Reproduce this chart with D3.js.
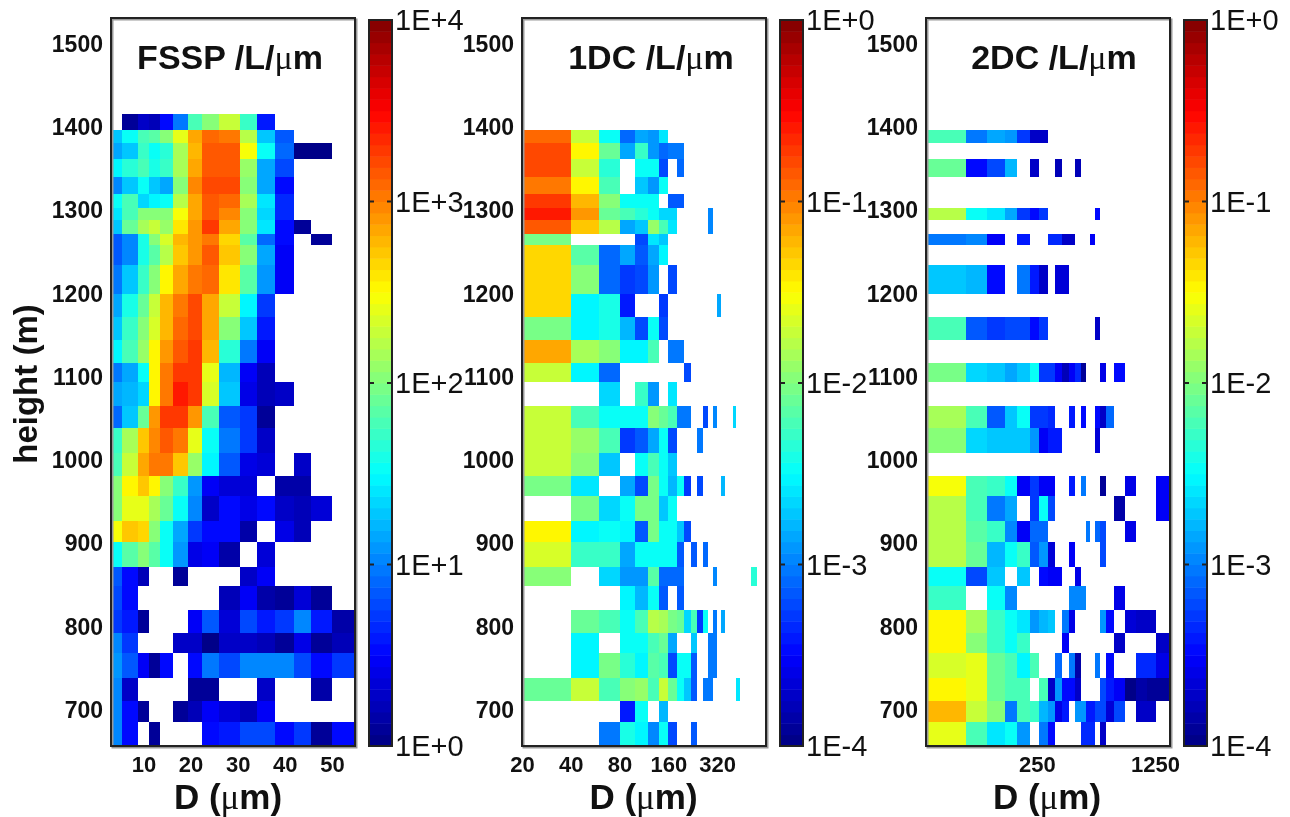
<!DOCTYPE html>
<html>
<head>
<meta charset="utf-8">
<script src="https://cdn.jsdelivr.net/npm/d3@7"></script>
<style>
  html, body { margin: 0; background: #fff; }
  svg { display: block; filter: blur(0.6px); }
  text { font-family: "Liberation Sans", Arial, sans-serif; fill: #111; }
</style>
</head>
<body>
<div id="chart"></div>
<script>
const _ = null;

// height bin edges (m), top to bottom, shared by the three panels
const heightEdges = [1416, 1397, 1381, 1361.5, 1340.6, 1320, 1302.6, 1288.6, 1271.8, 1258.6, 1234, 1199.7,
  1172, 1144.4, 1116.8, 1093.6, 1065.5, 1038.7, 1009, 981, 957, 927.4, 902, 872, 849, 820, 793, 769, 739, 711, 686, 657];
const heightTicks = [700, 800, 900, 1000, 1100, 1200, 1300, 1400, 1500];

// diameter bin edges (um)
const fsspEdges = [3.25, 5.44, 8.77, 11.23, 13.5, 16.33, 19.38, 22.42, 26.03, 30.42, 34.1, 37.92, 41.89, 45.5, 50.08, 54.69];
const oneDcEdges = [20, 40, 60, 80, 100, 120, 140, 160, 180, 200, 220, 240, 260, 280, 300, 320, 340, 360, 380,
  400, 420, 440, 460, 480, 500, 520, 540, 560];
const twoDcEdges = [55, 95, 126.5, 161.6, 191, 226, 257, 292, 318, 353, 387, 420, 456, 487, 517, 554, 593, 644,
  715, 831, 966, 1126, 1269, 1535];

const fsspTicks = [10, 20, 30, 40, 50];
const oneDcTicks = [20, 40, 80, 160, 320];
const twoDcTicks = [250, 1250];

const fsspLegend = ['1E+0', '1E+1', '1E+2', '1E+3', '1E+4'];
const dcLegend = ['1E-4', '1E-3', '1E-2', '1E-1', '1E+0'];

// log10 concentration, one row per height bin, one column per diameter bin
const fsspValues = [
  [_, .1, .3, .2, .55, .95, 1.8, 2.05, 2.3, 1.7, .6],
  [1.3, 1.55, 1.8, 1.85, 2, 2.4, 2.85, 3.1, 3.05, 2.2, 1.25, .85],
  [1.15, 1.3, 1.7, 1.5, 1.65, 2.15, 2.8, 3.15, 3.15, 2.45, 1.5, .9, .05, .05],
  [1.45, 1.65, 1.75, 1.6, 1.7, 2.15, 2.85, 3.15, 3.15, 2.1, 1.15, .8],
  [1, 1.25, 1.5, 1.3, 1.15, 2.05, 2.95, 3.2, 3.2, 2.05, 1.15, .5],
  [1.55, 1.8, 1.35, 1.45, 1.5, 2.2, 2.85, 3.15, 3.1, 2.15, 1.4, .65],
  [1.4, 1.8, 2.05, 2.05, 2.05, 2.45, 2.85, 3.15, 2.95, 2, 1.35, .65],
  [1.3, 1.9, 2.15, 2.25, 2.1, 2.6, 2.9, 3.3, 2.85, 2, 1.4, .5, .1],
  [.85, 1, 1.6, 2, 2.35, 2.75, 2.9, 3.05, 2.65, 1.85, .9, .5, _, .1],
  [.85, 1, 1.6, 1.85, 2.2, 2.7, 2.9, 3.15, 2.7, 2.05, 1.15, .45],
  [.95, 1.3, 1.7, 2.05, 2.5, 2.85, 3, 3.1, 2.6, 1.85, 1.1, .45],
  [1.15, 1.6, 1.9, 2.3, 2.75, 3, 3.2, 2.85, 2.25, 1.45, .7],
  [1.25, 1.7, 2.05, 2.35, 2.8, 3.1, 3.2, 2.85, 2.05, 1.3, .6],
  [1.45, 1.8, 2.1, 2.55, 2.9, 3.15, 3.3, 2.75, 1.65, .95, .45],
  [.95, 1.15, 1.5, 2.55, 3.05, 3.3, 3.3, 2.4, 1.2, .45, .2],
  [1.15, 1.2, 1.35, 2.55, 3.05, 3.4, 3.3, 2.35, 1.25, .4, .2, .25],
  [.9, 1.3, 1.9, 2.9, 3.3, 3.3, 2.9, 1.75, .85, .7, .1],
  [1.7, 2.15, 2.7, 2.95, 3.15, 3, 2.4, 1.55, .95, .7, .3],
  [1.8, 2.3, 2.85, 3, 3, 2.7, 2.1, 1.45, .85, .4, .35, _, .3],
  [2.05, 2.5, 2.7, 2.5, 2.05, 1.7, 1.1, .45, .35, .35, _, .15, .15],
  [2.05, 2.4, 2.4, 2.15, 1.9, 1.55, 1.05, .3, .5, .4, .5, .3, .2, .35],
  [2.45, 2.7, 2.65, 2.05, 1.5, 1.15, .7, .5, .5, .15, _, .4, .2],
  [1.5, 1.85, 2.05, 1.85, 1.5, 1.1, .4, .45, .15, _, .35],
  [.85, .5, .2, _, _, .1, _, _, _, .25, .45],
  [.75, .5, _, _, _, _, _, _, .2, .45, .15, .1, .35, .1],
  [.7, .6, .1, _, _, _, .45, .85, .35, .75, .6, .7, 1, .6, .15],
  [1, .7, _, _, _, .3, .3, .05, .3, .25, .2, .1, .4, .1, .2],
  [1.1, .85, .45, .1, .5, _, .5, .95, .75, 1.05, 1.05, 1.05, .75, .5, .7],
  [1, .3, _, _, _, _, .1, .1, _, _, .25, _, _, .15],
  [1, .5, .1, _, _, .1, .2, .45, .35, .2, .45],
  [1, .55, _, .1, _, _, _, .5, .6, .75, .8, .55, .7, .1, .5]
];

const oneDcValues = [
  [],
  [-.9, -1.7, -2.45, -3.1, -2.85, -2.9, -2.6],
  [-.8, -1.45, -2.1, -2.85, -2.3, -2.9, -3.1, -3.05, -3.05],
  [-.8, -1.7, -2.35, _, -2.45, -2.5, -3.25, _, -3.1],
  [-.95, -1.5, -2.25, _, -2.7, -2.9, -2.45],
  [-.7, -1.25, -2, -2.5, -2.5, -2.5, _, -3.15, -3.15],
  [-.6, -1.1, -2.1, -2.2, -2.35, -2.5, -2.65, -2.65, _, _, _, _, _, -2.95],
  [-.85, -1.3, -1.8, -2.85, -2.7, -1.9, -2.25, -2.6, _, _, _, _, _, -2.95],
  [-2.05, _, _, _, -3.2, -2.6, -2.7],
  [-1.35, -2.15, -3.1, -2.85, -3.15, -2.85, -2.55],
  [-1.35, -1.95, -3.1, -3.3, -3.25, -2.9, _, -3.2],
  [-1.35, -2.55, -2.4, -3.4, _, _, -3.3, _, _, _, _, _, _, _, _, -2.85],
  [-2.05, -2.55, -2.4, -2.8, -3.2, -2.45, -3.25],
  [-1.15, -1.85, -2, -2.55, -2.55, -2.25, _, -3.05, -3.05],
  [-1.7, -2.55, -3.1, _, _, _, _, _, _, -3.2],
  [_, _, -2.65, _, -2.3, -2.9, _, -2.6],
  [-1.7, -2.25, -2.45, -2.45, -2.45, -2, -2.1, -2.2, -3.05, -3.05, _, _, -3.2, _, -3, _, _, _, _, -2.65],
  [-1.7, -1.9, -2.25, -3.3, -3.15, -2.85, -2.45, -3.25, _, _, _, -3.05],
  [-1.7, -2, -2.7, _, -2.5, -2.2, -2.5, -2.7],
  [-2.05, -2.6, _, -2.85, -3.2, -2.05, -2.5, -2.8, -2.45, -3.3, _, -3.2, _, _, _, _, -2.8],
  [_, -2.05, -2.65, -2.45, -2.05, -2.05, -2.75, -2.5],
  [-1.45, -2.55, -2.45, -2.55, -3.15, -2.05, -2.5, -2.5, -2.7, -3.25],
  [-1.65, -2.3, -2.3, -2.85, -2.5, -2.5, -2.5, -2.5, -3.15, _, -3.15, _, -3.1],
  [-2, _, -2.65, -2.9, -2.9, -2.15, -3.1, -3.1, -3.1, _, _, _, _, _, -2.95, _, _, _, _, _, _, _, _, _, _, -2.35, -2.35],
  [_, _, _, -2.55, -2.8, -2.5, -3.15, _, -3.15],
  [_, -2.1, -2.2, -2.5, -2.25, -1.8, -1.85, -2.05, -2.1, -2.65, -2.25, -3.3, -2.45, _, -3.05, _, -2.85],
  [_, -2.55, _, -2.5, -2.5, -2.25, -2.1, -2.85, _, _, -2.7, _, _, -3.05, -3.05],
  [_, -2.55, -2.05, -2.35, -2.55, -2.15, -2.2, -3.25, -2.5, -2.5, -3.15, _, _, -3.05, -3.05],
  [-2.1, -1.75, -2.25, -1.95, -1.9, -2.25, -1.7, -2.1, -2.5, -2.7, -3.15, _, -3.05, -3.05, _, _, _, _, _, _, -2.6],
  [_, _, _, -3.4, -2.5, _, -2.8],
  [_, _, -3.05, -2.4, -2.55, -2.95, -2.5, -3.2, _, _, -3.15]
];

const twoDcValues = [
  [],
  [-2.25, -3.05, -2.85, -2.9, -3.3, -3.7, -3.7],
  [],
  [-2.1, -3.5, -3.2, -2.8, _, -3.75, _, _, -3.8, _, _, -3.8],
  [],
  [],
  [-1.8, -2.5, -2.6, -2.85, -3.3, -3.5, -3.3, _, _, _, _, _, _, _, _, -3.5],
  [],
  [-3.05, -3, -3.55, _, -3.4, _, _, -3.35, -3.35, -3.7, -3.7, _, _, _, -3.55],
  [],
  [-2.7, -2.8, -3.5, _, -3.05, -3.4, -3.7, _, -3.65, -3.65],
  [],
  [-2.25, -3.15, -3.3, -3.25, -3.25, -3.5, -3.3, _, _, _, _, _, _, _, _, -3.75],
  [],
  [-2.05, -2.65, -2.7, -2.85, -2.75, -2.5, -3.3, -3.3, -3.55, -3.8, -3.55, -3.35, -3.9, _, _, _, -3.6, _, -3.5],
  [],
  [-1.85, -2.25, -3.15, -2.7, -2.5, -3.3, -3.3, -3.35, _, _, -3.4, _, -3.45, _, _, -3.5, -3.7, -3.1],
  [-2, -2.65, -2.75, -2.75, -2.7, -2.9, -3.55, -3.4, -3.4, _, _, _, _, _, _, -3.65],
  [],
  [-1.55, -2.2, -2.3, -2.5, -3.55, -3.3, -3.55, -3.55, _, _, -3.4, _, -3.05, _, _, _, -3.9, _, _, -3.6, _, _, -3.55],
  [-1.8, -2.2, -3.05, -2.85, _, -3.3, -2.5, -3.25, _, _, _, _, _, _, _, _, _, _, -3.85, _, _, _, -3.55],
  [-1.8, -2.15, -2.3, -3, -3.55, -3.1, -3.1, _, _, _, _, _, _, -3.05, _, -3.1, -3.25, _, _, -3.6],
  [-1.8, -2.1, -2.8, -2.45, -2.3, -3.15, -2.9, -3.65, _, _, -3.55, _, _, _, _, _, -3.25],
  [-2.45, -3.25, -2.75, _, -2.7, _, -3.45, -3.55, -3.55, _, _, -3.6],
  [-2.3, _, -2.5, -2.95, _, _, _, _, _, _, -2.95, -2.95, -2.95, _, _, _, _, _, -3.6],
  [-1.5, -1.85, -2.3, -2.45, -2.6, -2.9, -2.8, -2.7, _, -3.05, -3.6, _, _, _, _, _, -2.9, -3.5, _, -3.65, -3.75, -3.75],
  [-1.5, -1.95, -2.3, -2.45, -2.3, _, _, _, _, -3.55, _, _, _, _, _, _, _, _, -3.75, _, _, _, -3.7],
  [-1.65, -1.6, -2.1, -2.25, -2.55, -2.2, _, _, -3.1, _, -3.05, -3.85, _, _, _, -3.05, _, -3.5, _, _, -3.35, -3.35, -3.6],
  [-1.5, -1.6, -2.1, -2.2, -2.2, _, -2.2, -3.7, -2.9, -3.45, -3.5, -3.7, _, _, _, _, -3.25, -3.4, -3.55, -3.95, -3.85, -3.9, -3.9],
  [-1.25, -1.7, -1.95, -3.05, -2.2, -2.3, -2.8, -2.9, -3.6, -3.4, _, -2.9, -2.9, -3.4, -3.4, -3.25, -3.25, -3.65, -3.2, _, -3.7, -3.7],
  [-1.6, -2.25, -2.6, -2.5, -2.9, _, -3.05, -3.5, _, _, _, _, -3.35, -3.35, -3.35, _, -3.75]
];

// 尺寸 (same pixel layout as the reference page)
const width = 1290;
const height = 817;
const plotTop = 18;
const plotBottom = 746;
const plotWidth = 244;

const panels = [
  { title: 'FSSP', left: 111, values: fsspValues, edges: fsspEdges, ticks: fsspTicks, legend: fsspLegend,
    range: [0, 4], xScale: d3.scaleLinear().domain([3.1, 54.9]), titleX: 230, labelX: 228 },
  { title: '1DC', left: 522, values: oneDcValues, edges: oneDcEdges, ticks: oneDcTicks, legend: dcLegend,
    range: [-4, 0], xScale: d3.scaleLog().domain([20, 640]), titleX: 651, labelX: 643.5 },
  { title: '2DC', left: 926, values: twoDcValues, edges: twoDcEdges, ticks: twoDcTicks, legend: dcLegend,
    range: [-4, 0], xScale: d3.scaleLog().domain([55, 1535]), titleX: 1054, labelX: 1047 }
];

const yScale = d3.scaleLinear().domain([657, 1531]).range([plotBottom, plotTop]);

// MATLAB jet, cut into 64 flat levels
const jet = d3.scaleLinear()
  .domain([0, .125, .375, .625, .875, 1])
  .range(['#000080', '#0000ff', '#00ffff', '#ffff00', '#ff0000', '#800000'])
  .clamp(true);
const levels = 64;
const levelColor = i => jet((i + .5) / levels);

const svg = d3.select('#chart').append('svg')
  .attr('width', width)
  .attr('height', height);

/** µm label with the mu in a serif face, like the Symbol glyph of the original */
function addUnit(text, before, after) {
  text.append('tspan').text(before);
  text.append('tspan').attr('font-family', '"Liberation Serif", serif').attr('font-weight', 400).text('\u03bc');
  text.append('tspan').text(after);
}

function drawPanel(p) {
  const g = svg.append('g').attr('class', 'panel');
  const x = p.xScale.range([p.left, p.left + plotWidth]);
  const level = d3.scaleQuantize().domain(p.range).range(d3.range(levels));

  // 数据格
  p.values.forEach((row, r) => {
    row.forEach((v, c) => {
      if (v === null) return;
      g.append('rect')
        .attr('x', x(p.edges[c]))
        .attr('y', yScale(heightEdges[r]))
        .attr('width', x(p.edges[c + 1]) - x(p.edges[c]))
        .attr('height', yScale(heightEdges[r + 1]) - yScale(heightEdges[r]))
        .attr('fill', levelColor(level(v)))
        .attr('shape-rendering', 'crispEdges');
    });
  });

  // 边框
  g.append('rect')
    .attr('x', p.left + 1.5).attr('y', plotTop + 1.5)
    .attr('width', plotWidth).attr('height', plotBottom - plotTop)
    .attr('fill', 'none').attr('stroke', '#999').attr('stroke-width', 2);
  g.append('rect')
    .attr('x', p.left).attr('y', plotTop)
    .attr('width', plotWidth).attr('height', plotBottom - plotTop)
    .attr('fill', 'none').attr('stroke', '#222').attr('stroke-width', 2);

  // 坐标轴
  const yAxis = g.append('g')
    .attr('transform', `translate(${p.left},0)`)
    .call(d3.axisLeft(yScale).tickValues(heightTicks).tickFormat(d3.format('d')).tickSize(0).tickPadding(8));
  yAxis.select('.domain').remove();
  yAxis.selectAll('text').attr('font-size', 23).attr('font-weight', 700).style('font-family', null);

  const xAxis = g.append('g')
    .attr('transform', `translate(0,${plotBottom})`)
    .call(d3.axisBottom(x).tickValues(p.ticks).tickFormat(d3.format('d')).tickSize(0).tickPadding(10));
  xAxis.select('.domain').remove();
  xAxis.selectAll('text').attr('font-size', 22).attr('font-weight', 700).style('font-family', null);

  // 标题
  const title = g.append('text')
    .attr('x', p.titleX).attr('y', 69)
    .attr('text-anchor', 'middle')
    .attr('font-size', 34).attr('font-weight', 700);
  addUnit(title, `${p.title} /L/`, 'm');

  const xLabel = g.append('text')
    .attr('x', p.labelX).attr('y', 809)
    .attr('text-anchor', 'middle')
    .attr('font-size', 35).attr('font-weight', 700);
  addUnit(xLabel, 'D (', 'm)');

  drawColorbar(g, p);
}

function drawColorbar(g, p) {
  const barLeft = p.left + plotWidth + 14;
  const barWidth = 23;
  const barScale = d3.scaleLinear().domain([0, levels]).range([plotBottom, plotTop + 2]);

  g.selectAll('rect.level')
    .data(d3.range(levels))
    .enter()
    .append('rect')
    .attr('class', 'level')
    .attr('x', barLeft)
    .attr('y', d => barScale(d + 1))
    .attr('width', barWidth)
    .attr('height', d => barScale(d) - barScale(d + 1) + .5)
    .attr('fill', levelColor);

  g.append('rect')
    .attr('x', barLeft).attr('y', plotTop + 2)
    .attr('width', barWidth).attr('height', plotBottom - plotTop - 2)
    .attr('fill', 'none').attr('stroke', '#222').attr('stroke-width', 2);

  p.legend.forEach((label, i) => {
    const y = barScale(i * levels / (p.legend.length - 1));
    [[barLeft, barLeft + 5], [barLeft + barWidth - 5, barLeft + barWidth]].forEach(([a, b]) => {
      g.append('line')
        .attr('x1', a).attr('x2', b)
        .attr('y1', y).attr('y2', y)
        .attr('stroke', '#222').attr('stroke-width', 2);
    });
    g.append('text')
      .attr('x', barLeft + barWidth + 3)
      .attr('y', y + 10)
      .attr('font-size', 29)
      .text(label);
  });
}

panels.forEach(drawPanel);

svg.append('text')
  .attr('transform', 'translate(37,384) rotate(-90)')
  .attr('text-anchor', 'middle')
  .attr('font-size', 33)
  .attr('font-weight', 700)
  .text('height (m)');
</script>
</body>
</html>
